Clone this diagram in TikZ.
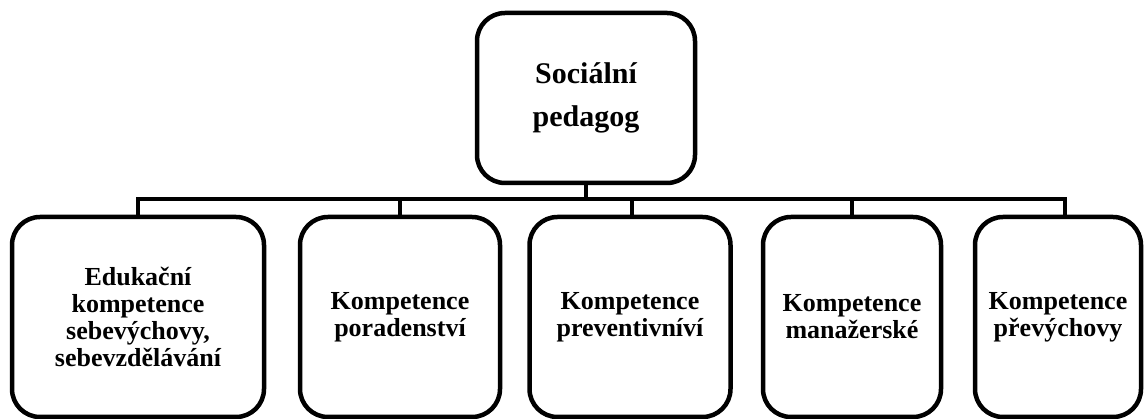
\documentclass[tikz,border=0pt]{standalone}
\usepackage{fontspec}
\setmainfont{Liberation Serif}

\begin{document}
\begin{tikzpicture}[x=1pt,y=1pt,line width=3.5pt,
  box/.style={draw,line width=4.5pt,rounded corners=28pt,align=center,inner sep=0pt,
    minimum height=200pt,font=\bfseries\fontsize{26}{27}\selectfont}]
\useasboundingbox (0,0) rectangle (1144,419);

\node[box,minimum width=218pt,minimum height=170pt,font=\bfseries\fontsize{30}{43}\selectfont](top) at (586,321){Sociální\\pedagog};

\node[box,minimum width=252pt](edu) at (138,102){Edukační\\kompetence\\sebevýchovy,\\sebevzdělávání};
\node[box,minimum width=200pt](por) at (400,102){Kompetence\\poradenství};
\node[box,minimum width=201pt](pre) at (630,102){Kompetence\\preventivníví};
\node[box,minimum width=178pt](man) at (852,102){Kompetence\\manažerské};
\node[box,minimum width=166pt](pvy) at (1058,102){Kompetence\\převýchovy};

\coordinate(bus) at (586,220);

\draw(top.south)--(bus);
\draw(edu.north)|-(bus);
\draw(por.north)|-(bus);
\draw([xshift=2pt]pre.north)|-(bus);
\draw(man.north)|-(bus);
\draw([xshift=7pt]pvy.north)|-(bus);
\end{tikzpicture}
\end{document}
